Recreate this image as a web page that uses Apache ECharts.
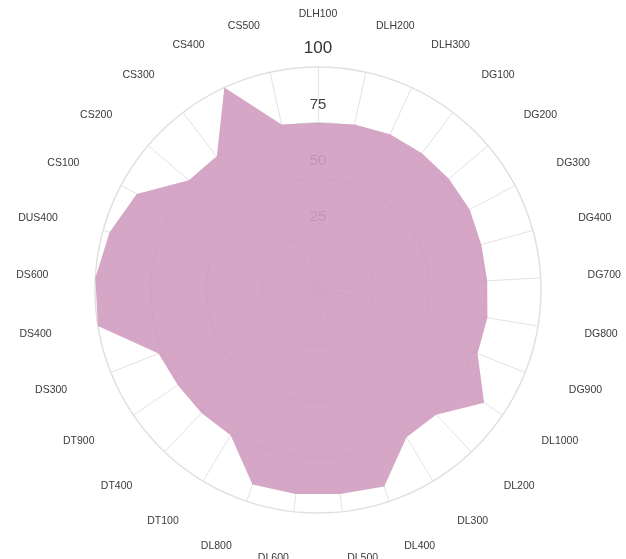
<!DOCTYPE html>
<html><head><meta charset="utf-8">
<script src="https://cdn.jsdelivr.net/npm/echarts@6/dist/echarts.min.js"></script>
<style>html,body{margin:0;padding:0;background:#fff}#c{width:626px;height:559px}</style>
</head><body><div id="c"></div>
<script>
const categories = ["DLH100","DLH200","DLH300","DG100","DG200","DG300","DG400","DG700","DG800","DG900","DL1000","DL200","DL300","DL400","DL500","DL600","DL800","DT100","DT400","DT900","DS300","DS400","DS600","DUS400","CS100","CS200","CS300","CS400","CS500"];
const values = [75,76,77,77,77,77,76,76,77,77,90,77,77,93,92,92,92,76,76,76,77,100,100,97,92,76,75,100,76];
const tickLabels = ["","25","50","75","100"];
const maxValue = 100;

// ECharts places radar indicators counter-clockwise; reorder so they run clockwise from the top
const order = [0].concat(categories.map((_, i) => categories.length - 1 - i).slice(0, categories.length - 1));
const cats = order.map(i => categories[i]);
const vals = order.map(i => values[i]);

const chart = echarts.init(document.getElementById('c'), null, {renderer:'canvas'});
const indicator = cats.map((n,i)=> i===0 ? {name:n, max:maxValue, min:0, axisLabel:{
  show:true, margin:0, align:'center', verticalAlign:'bottom', padding:[0,0,10,0],
  color:'#444', fontFamily:'Liberation Sans', fontSize:15,
  formatter:(v)=>{ const s = tickLabels[Math.round(v/25)]; return s===undefined?'':(s==='100'?'{b|'+s+'}':s); },
  rich:{b:{fontSize:17,color:'#333',fontFamily:'Liberation Sans'}}
}} : {name:n, max:maxValue, min:0});
chart.setOption({
  animation:false,
  radar:{
    center:[318,290], radius:223, shape:'circle', splitNumber:4, startAngle:90,
    indicator: indicator,
    axisName:{color:'#3a3a3a', fontSize:10.5, fontFamily:'Liberation Sans'},
    nameGap:47,
    axisLine:{lineStyle:{color:'#e2e2e2', width:1}},
    splitLine:{show:true, lineStyle:{color:'#e0e0e0', width:1.5}},
    splitArea:{show:false},
    axisTick:{show:false},
    axisLabel:{show:false}
  },
  series:[{
    type:'radar',
    symbol:'none',
    lineStyle:{width:0},
    areaStyle:{color:'rgba(208,156,191,0.9)', opacity:1},
    data:[{value:vals}]
  }]
});
</script></body></html>
